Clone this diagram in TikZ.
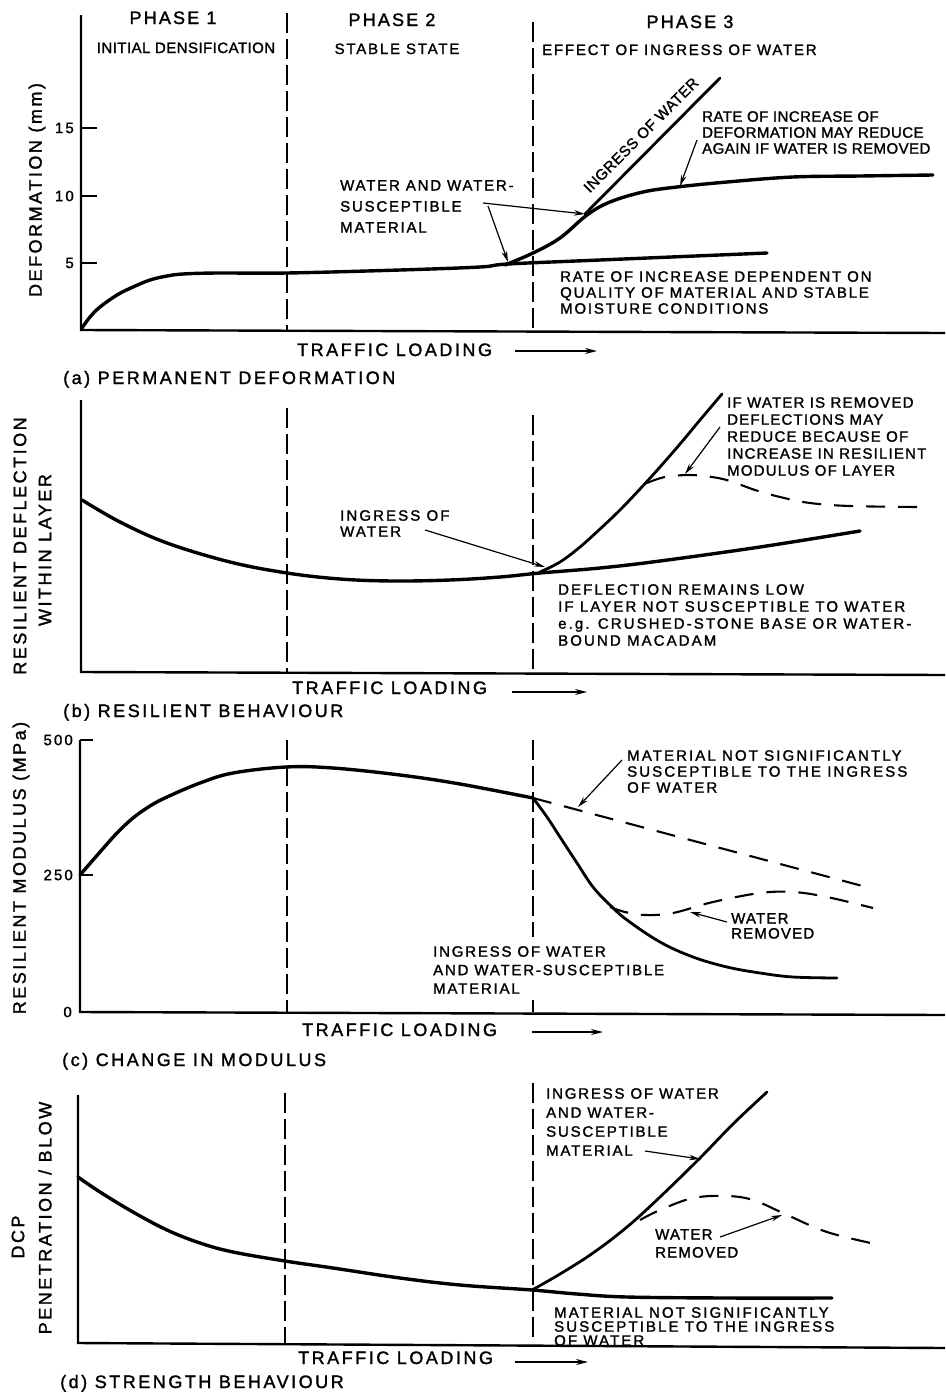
\documentclass[tikz,border=0pt]{standalone}
\usepackage{fontspec}
\setmainfont{Liberation Sans}
\newfontfamily\bigfont[LetterSpace=14,FakeBold=1.5]{Liberation Sans}
\newfontfamily\notefont[LetterSpace=12,FakeBold=1.5]{Liberation Sans}
\newfontfamily\midfont[LetterSpace=8,FakeBold=1.5]{Liberation Sans}
\newfontfamily\tightfont[LetterSpace=3,FakeBold=1.5]{Liberation Sans}
\usetikzlibrary{arrows.meta}
\tikzset{
    >=Stealth,
    axis/.style={draw,line width=2.4pt},
    curve/.style={draw,line width=3.4pt,line cap=round,line join=round},
    wetcurve/.style={draw,line width=2.8pt,line cap=round},
    drydash/.style={draw,line width=2.1pt,dash pattern=on 19pt off 13pt},
    phaseline/.style={draw,line width=1.5pt,dash pattern=on 20pt off 6pt},
    callout/.style={draw,->,line width=1.2pt,>={Stealth[length=11pt,width=5.5pt]}},
    loadarrow/.style={draw,->,line width=1.4pt,>={Stealth[length=12pt,width=6pt]}}
}

\begin{document}
\begin{tikzpicture}[x=1pt,y=-1pt,
                    note/.style={font=\notefont\fontsize{15}{#1}\selectfont,align=left,anchor=north west,inner sep=0pt},
                    note/.default=17,
                    widenote/.style={font=\bigfont\fontsize{15}{#1}\selectfont,align=left,anchor=north west,inner sep=0pt},
                    widenote/.default=17,
                    midnote/.style={font=\midfont\fontsize{15}{#1}\selectfont,align=left,anchor=north west,inner sep=0pt},
                    midnote/.default=17,
                    tightnote/.style={font=\tightfont\fontsize{15}{#1}\selectfont,align=left,anchor=north west,inner sep=0pt},
                    tightnote/.default=16,
                    big/.style={font=\bigfont\fontsize{18}{20}\selectfont,inner sep=0pt},
                    phase/.style={font=\notefont\fontsize{18}{20}\selectfont,anchor=base,inner sep=0pt},
                    ticklabel/.style={font=\bigfont\fontsize{15}{17}\selectfont,anchor=east,inner sep=0pt}]
\useasboundingbox (0,0) rectangle (945,1392);

% Panel (a): permanent deformation
\draw[axis] (81,15) -- (81,330) -- (945,333);
\foreach \yy/\val in {128/15,196/10,263/5}{
    \draw[axis] (81,\yy) -- (97,\yy);
    \node[ticklabel] (aTick\val) at (74,\yy) {\val};
}
\draw[phaseline] (287,13) -- (287,330);
\draw[phaseline] (533,22) -- (533,330);
\node[big,rotate=90] (aYLabel) at (37,190) {DEFORMATION (mm)};

% Phases
\node[phase] (phaseOne) at (173,24) {PHASE 1};
\node[phase] (phaseTwo) at (392,26) {PHASE 2};
\node[phase] (phaseThree) at (690,28) {PHASE 3};
\node[tightnote,anchor=base] (densify) at (186,53) {INITIAL DENSIFICATION};
\node[note,anchor=base] (stable) at (397,54) {STABLE STATE};
\node[note,anchor=base west] (effect) at (542,55) {EFFECT OF INGRESS OF WATER};

% Curves
\draw[curve] plot[smooth,tension=0.6] coordinates {(82,328) (90,317) (100,307) (117,295) (133,287) (150,280) (167,276) (183,274) (217,273) (287,273) (400,270) (480,267) (508,264) (600,260) (767,253)};
\draw[curve] plot[smooth,tension=0.6] coordinates {(505,265) (533,253) (560,238) (587,215) (610,202) (643,192) (677,187) (727,182) (793,177) (860,176) (933,175)};
\coordinate (aKnee) at (585,214);
\coordinate (aWetTop) at (720,78);
\draw[wetcurve] (aKnee) -- (aWetTop);
\node[tightnote,anchor=center,rotate=45] (aIngress) at (641,135) {INGRESS OF WATER};

% Labels
\node[note=21] (aWaterNote) at (340,180) {WATER AND WATER-\\SUSCEPTIBLE\\MATERIAL};
\coordinate (aWaterTail) at (483,203);
\coordinate (aWaterTail2) at (488,206);
\coordinate (aMeet) at (508,262);
\draw[callout] (aWaterTail) -- (aKnee);
\draw[callout] (aWaterTail2) -- (aMeet);
\node[tightnote] (aRateNote) at (702,111) {RATE OF INCREASE OF\\DEFORMATION MAY REDUCE\\AGAIN IF WATER IS REMOVED};
\coordinate (aRateTail) at (697,140);
\coordinate (aFlat) at (680,186);
\draw[callout] (aRateTail) -- (aFlat);
\node[note=16] (aDependNote) at (560,271) {RATE OF INCREASE DEPENDENT ON\\QUALITY OF MATERIAL AND STABLE\\MOISTURE CONDITIONS};
\node[big,anchor=base west] (aLoad) at (297,356) {TRAFFIC LOADING};
\coordinate (aLoadTail) at (515,351);
\coordinate (aLoadHead) at (597,351);
\draw[loadarrow] (aLoadTail) -- (aLoadHead);
\node[big,anchor=base west] (aCaption) at (63,384) {(a) PERMANENT DEFORMATION};

% Panel (b): resilient behaviour
\draw[axis] (81,400) -- (81,672) -- (945,675);
\draw[phaseline] (287,408) -- (287,672);
\draw[phaseline] (533,415) -- (533,672);
\node[big,rotate=90] (bYLabel) at (20,546) {RESILIENT DEFLECTION};
\node[big,rotate=90] (bYLabelTwo) at (45,550) {WITHIN LAYER};
\draw[curve] plot[smooth,tension=0.6] coordinates {(82,500) (120,522) (167,543) (230,562) (287,573) (340,579) (393,581) (450,580) (500,577) (540,573) (600,568) (660,561) (760,547) (860,531)};
\draw[wetcurve] plot[smooth,tension=0.6] coordinates {(540,572) (560,562) (580,547) (600,529) (620,510) (640,489) (660,467) (680,444) (700,420) (722,394)};
\draw[drydash] plot[smooth,tension=0.6] coordinates {(647,483) (665,477) (690,475) (712,477) (730,481) (755,490) (780,497) (810,503) (850,506) (918,507)};
\node[midnote] (bRemoveNote) at (727,397) {IF WATER IS REMOVED\\DEFLECTIONS MAY\\REDUCE BECAUSE OF\\INCREASE IN RESILIENT\\MODULUS OF LAYER};
\coordinate (bRemoveTail) at (720,427);
\coordinate (bRemoveTip) at (685,474);
\draw[callout] (bRemoveTail) -- (bRemoveTip);
\node[widenote=16] (bIngressNote) at (340,510) {INGRESS OF\\WATER};
\coordinate (bIngressTail) at (425,530);
\coordinate (bMeet) at (545,567);
\draw[callout] (bIngressTail) -- (bMeet);
\node[widenote] (bLowNote) at (558,584) {DEFLECTION REMAINS LOW\\IF LAYER NOT SUSCEPTIBLE TO WATER\\e.g. CRUSHED-STONE BASE OR WATER-\\BOUND MACADAM};
\node[big,anchor=base west] (bLoad) at (292,694) {TRAFFIC LOADING};
\coordinate (bLoadTail) at (512,692);
\coordinate (bLoadHead) at (587,692);
\draw[loadarrow] (bLoadTail) -- (bLoadHead);
\node[big,anchor=base west] (bCaption) at (63,717) {(b) RESILIENT BEHAVIOUR};

% Panel (c): change in modulus
\draw[axis] (80,740) -- (80,1012) -- (945,1015);
\foreach \yy/\val in {740/500,875/250}{
    \draw[axis] (80,\yy) -- (93,\yy);
    \node[ticklabel] (cTick\val) at (73,\yy) {\val};
}
\node[ticklabel] (cTickZero) at (72,1012) {0};
\draw[phaseline] (287,740) -- (287,1012);
\draw[phaseline] (533,740) -- (533,937);
\draw[phaseline] (533,1000) -- (533,1012);
\node[big,rotate=90] (cYLabel) at (21,868) {RESILIENT MODULUS (MPa)};
\draw[curve] plot[smooth,tension=0.6] coordinates {(80,875) (100,852) (117,833) (133,818) (150,806) (167,797) (200,783) (233,773) (286,767) (333,768) (400,775) (460,784) (533,798)};
\coordinate (cJoin) at (533,798);
\coordinate (cDryEnd) at (870,888);
\draw[drydash] (cJoin) -- (cDryEnd);
\draw[wetcurve] plot[smooth,tension=0.6] coordinates {(533,798) (547,817) (560,837) (577,863) (593,887) (610,905) (627,920) (660,942) (693,957) (727,967) (760,973) (793,977) (837,978)};
\draw[drydash] plot[smooth,tension=0.6] coordinates {(610,907) (625,912) (645,915) (673,913) (713,902) (760,893) (793,892) (827,897) (873,908)};
\node[widenote=16] (cDryNote) at (627,750) {MATERIAL NOT SIGNIFICANTLY\\SUSCEPTIBLE TO THE INGRESS\\OF WATER};
\coordinate (cDryTail) at (622,760);
\coordinate (cDryTip) at (578,807);
\draw[callout] (cDryTail) -- (cDryTip);
\node[midnote=15] (cRemoveNote) at (731,913) {WATER\\REMOVED};
\coordinate (cRemoveTail) at (727,922);
\coordinate (cRemoveTip) at (690,912);
\draw[callout] (cRemoveTail) -- (cRemoveTip);
\node[note=18.5] (cWetNote) at (433,946) {INGRESS OF WATER\\AND WATER-SUSCEPTIBLE\\MATERIAL};
\node[big,anchor=base west] (cLoad) at (302,1036) {TRAFFIC LOADING};
\coordinate (cLoadTail) at (532,1032);
\coordinate (cLoadHead) at (603,1032);
\draw[loadarrow] (cLoadTail) -- (cLoadHead);
\node[big,anchor=base west] (cCaption) at (62,1066) {(c) CHANGE IN MODULUS};

% Panel (d): strength behaviour
\draw[axis] (78,1095) -- (78,1343) -- (945,1348);
\draw[phaseline] (285,1093) -- (285,1343);
\draw[phaseline] (533,1083) -- (533,1343);
\node[big,rotate=90] (dYLabel) at (18,1237) {DCP};
\node[big,rotate=90] (dYLabelTwo) at (45,1218) {PENETRATION / BLOW};
\draw[curve] plot[smooth,tension=0.6] coordinates {(78,1177) (100,1192) (133,1212) (167,1230) (200,1243) (233,1252) (285,1261) (333,1268) (400,1278) (460,1285) (532,1290) (577,1294) (627,1297) (727,1298) (832,1298)};
\draw[wetcurve] plot[smooth,tension=0.6] coordinates {(532,1290) (560,1274) (593,1253) (627,1227) (660,1197) (700,1158) (733,1124) (767,1092)};
\draw[drydash] plot[smooth,tension=0.6] coordinates {(640,1220) (660,1210) (693,1198) (727,1196) (753,1200) (783,1213) (827,1232) (880,1245)};
\node[note=19] (dWetNote) at (546,1088) {INGRESS OF WATER\\AND WATER-\\SUSCEPTIBLE\\MATERIAL};
\coordinate (dWetTail) at (645,1151);
\coordinate (dWetTip) at (700,1159);
\draw[callout] (dWetTail) -- (dWetTip);
\node[midnote=18] (dRemoveNote) at (655,1229) {WATER\\REMOVED};
\coordinate (dRemoveTail) at (720,1237);
\coordinate (dRemoveTip) at (782,1215);
\draw[callout] (dRemoveTail) -- (dRemoveTip);
\node[widenote=14] (dDryNote) at (554,1307) {MATERIAL NOT SIGNIFICANTLY\\SUSCEPTIBLE TO THE INGRESS\\OF WATER};
\node[big,anchor=base west] (dLoad) at (298,1364) {TRAFFIC LOADING};
\coordinate (dLoadTail) at (515,1362);
\coordinate (dLoadHead) at (588,1362);
\draw[loadarrow] (dLoadTail) -- (dLoadHead);
\node[big,anchor=base west] (dCaption) at (60,1388) {(d) STRENGTH BEHAVIOUR};

\end{tikzpicture}
\end{document}
